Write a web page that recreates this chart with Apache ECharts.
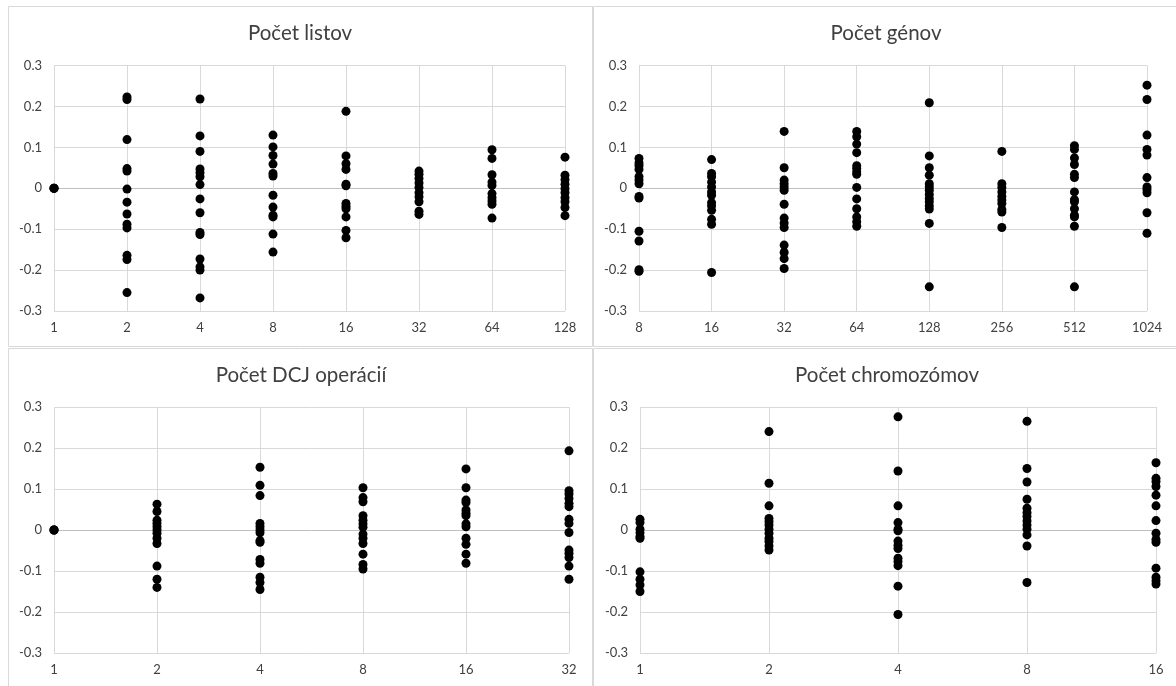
<!DOCTYPE html>
<html>
<head>
<meta charset="utf-8">
<script src="https://cdn.jsdelivr.net/npm/echarts@6/dist/echarts.min.js"></script>
<style>
html,body{margin:0;padding:0;background:#fff;}
#chart{width:1176px;height:686px;}
</style>
</head>
<body>
<div id="chart"></div>
<script>
// ---- Data ----
const yTicks = [-0.3, -0.2, -0.1, 0, 0.1, 0.2, 0.3];

const listovTitle = 'Počet listov';
const listovCats = ['1', '2', '4', '8', '16', '32', '64', '128'];
const listovVals = [
  [0, 0, 0],
  [0.223, 0.217, 0.119, 0.048, 0.042, -0.002, -0.034, -0.063, -0.088, -0.097, -0.164, -0.174, -0.255],
  [0.218, 0.128, 0.090, 0.047, 0.038, 0.028, 0.009, -0.026, -0.060, -0.108, -0.113, -0.173, -0.192, -0.200, -0.268],
  [0.130, 0.101, 0.080, 0.059, 0.036, 0.030, -0.017, -0.046, -0.066, -0.070, -0.112, -0.156],
  [0.188, 0.079, 0.060, 0.046, 0.010, 0.006, -0.037, -0.044, -0.050, -0.070, -0.103, -0.121],
  [0.042, 0.034, 0.024, 0.013, 0.002, -0.011, -0.021, -0.033, -0.056, -0.064],
  [0.094, 0.073, 0.033, 0.015, 0.007, -0.013, -0.023, -0.031, -0.039, -0.073],
  [0.076, 0.032, 0.021, 0.010, -0.001, -0.011, -0.023, -0.033, -0.047, -0.067]
];

const genovTitle = 'Počet génov';
const genovCats = ['8', '16', '32', '64', '128', '256', '512', '1024'];
const genovVals = [
  [0.073, 0.062, 0.055, 0.046, 0.028, 0.020, 0.011, -0.020, -0.024, -0.105, -0.129, -0.199, -0.203],
  [0.070, 0.036, 0.028, 0.015, 0.003, -0.009, -0.017, -0.035, -0.043, -0.054, -0.076, -0.088, -0.206],
  [0.139, 0.050, 0.020, 0.011, 0.003, -0.005, -0.039, -0.073, -0.085, -0.096, -0.139, -0.157, -0.172, -0.196],
  [0.139, 0.126, 0.108, 0.087, 0.055, 0.048, 0.040, 0.034, 0.002, -0.026, -0.050, -0.070, -0.082, -0.093],
  [0.209, 0.079, 0.050, 0.032, 0.011, 0.003, -0.005, -0.015, -0.025, -0.033, -0.043, -0.051, -0.086, -0.241],
  [0.090, 0.011, 0.002, -0.009, -0.020, -0.029, -0.037, -0.052, -0.058, -0.096],
  [0.104, 0.095, 0.074, 0.058, 0.034, 0.026, -0.009, -0.028, -0.033, -0.050, -0.066, -0.070, -0.093, -0.241],
  [0.252, 0.217, 0.130, 0.095, 0.081, 0.026, 0.003, -0.003, -0.011, -0.060, -0.110]
];

const dcjTitle = 'Počet DCJ operácií';
const dcjCats = ['1', '2', '4', '8', '16', '32'];
const dcjVals = [
  [0, 0, 0],
  [0.063, 0.045, 0.024, 0.016, 0.008, 0.0, -0.008, -0.020, -0.033, -0.088, -0.120, -0.140],
  [0.153, 0.109, 0.084, 0.016, 0.008, 0.0, -0.007, -0.026, -0.030, -0.072, -0.081, -0.115, -0.128, -0.145],
  [0.103, 0.079, 0.069, 0.035, 0.024, 0.015, 0.007, -0.010, -0.020, -0.033, -0.059, -0.084, -0.095],
  [0.149, 0.103, 0.073, 0.067, 0.049, 0.041, 0.035, 0.015, 0.008, -0.020, -0.035, -0.059, -0.081],
  [0.193, 0.096, 0.088, 0.077, 0.065, 0.057, 0.026, 0.016, -0.006, -0.049, -0.057, -0.067, -0.088, -0.120]
];

const chromTitle = 'Počet chromozómov';
const chromCats = ['1', '2', '4', '8', '16'];
const chromVals = [
  [0.026, 0.018, 0.002, -0.007, -0.016, -0.020, -0.102, -0.120, -0.134, -0.150],
  [0.240, 0.114, 0.059, 0.028, 0.020, 0.012, 0.002, -0.008, -0.020, -0.028, -0.039, -0.049],
  [0.276, 0.144, 0.059, 0.018, 0.002, -0.002, -0.027, -0.037, -0.045, -0.069, -0.077, -0.087, -0.137, -0.206],
  [0.265, 0.150, 0.117, 0.075, 0.053, 0.042, 0.033, 0.022, 0.012, 0.002, -0.012, -0.039, -0.128],
  [0.164, 0.126, 0.118, 0.106, 0.085, 0.059, 0.023, -0.008, -0.023, -0.030, -0.093, -0.115, -0.124, -0.132]
];

// ---- Layout ----
const FONT = 'Lato, "Noto Sans", sans-serif';
const TEXT = '#404040';
const GRID = '#d9d9d9';
const panels = [
  { title: listovTitle, cats: listovCats, vals: listovVals, grid: { left: 54, top: 65.5, width: 511, height: 245.5 }, tx: 300, ty: 33 },
  { title: genovTitle, cats: genovCats, vals: genovVals, grid: { left: 639, top: 65.5, width: 508, height: 245.5 }, tx: 886, ty: 33 },
  { title: dcjTitle, cats: dcjCats, vals: dcjVals, grid: { left: 54, top: 407, width: 515, height: 246 }, tx: 301, ty: 375 },
  { title: chromTitle, cats: chromCats, vals: chromVals, grid: { left: 640, top: 407, width: 516, height: 246 }, tx: 887, ty: 375 }
];

const fmt = v => String(Math.round(v * 10) / 10);
const splitColors = yTicks.map(t => (t === 0 ? '#bfbfbf' : GRID));

const option = {
  animation: false,
  backgroundColor: '#fff',
  grid: panels.map(p => Object.assign({ containLabel: false }, p.grid)),
  xAxis: panels.map((p, i) => ({
    type: 'category',
    gridIndex: i,
    data: p.cats,
    boundaryGap: false,
    axisLine: { show: false },
    axisTick: { show: false },
    axisLabel: { color: TEXT, fontFamily: FONT, fontSize: 13, margin: 10 },
    splitLine: { show: true, lineStyle: { color: GRID, width: 1 } }
  })),
  yAxis: panels.map((p, i) => ({
    type: 'value',
    gridIndex: i,
    min: -0.3,
    max: 0.3,
    interval: 0.1,
    axisLine: { show: false },
    axisTick: { show: false },
    axisLabel: { color: TEXT, fontFamily: FONT, fontSize: 13, margin: 12, formatter: fmt },
    splitLine: { show: true, lineStyle: { color: splitColors, width: 1 } }
  })),
  series: panels.map((p, i) => ({
    type: 'scatter',
    xAxisIndex: i,
    yAxisIndex: i,
    symbol: 'circle',
    symbolSize: 9,
    itemStyle: { color: '#000', opacity: 1 },
    data: p.cats.flatMap((c, j) => p.vals[j].map(v => [c, v]))
  })),
  graphic: [
    { type: 'rect', shape: { x: 8.5, y: 6.5, width: 584, height: 340 }, style: { fill: 'none', stroke: GRID, lineWidth: 1 }, silent: true, z: -1 },
    { type: 'rect', shape: { x: 593.5, y: 6.5, width: 600, height: 340 }, style: { fill: 'none', stroke: GRID, lineWidth: 1 }, silent: true, z: -1 },
    { type: 'rect', shape: { x: 8.5, y: 348.5, width: 584, height: 360 }, style: { fill: 'none', stroke: GRID, lineWidth: 1 }, silent: true, z: -1 },
    { type: 'rect', shape: { x: 593.5, y: 348.5, width: 600, height: 360 }, style: { fill: 'none', stroke: GRID, lineWidth: 1 }, silent: true, z: -1 }
  ].concat(panels.map(p => ({
    type: 'text',
    x: p.tx,
    y: p.ty,
    style: {
      text: p.title,
      fill: TEXT,
      font: '20.5px ' + FONT,
      textAlign: 'center',
      textVerticalAlign: 'middle'
    },
    silent: true
  })))
};

const chart = echarts.init(document.getElementById('chart'), null, { renderer: 'canvas' });
chart.setOption(option);
</script>
</body>
</html>
